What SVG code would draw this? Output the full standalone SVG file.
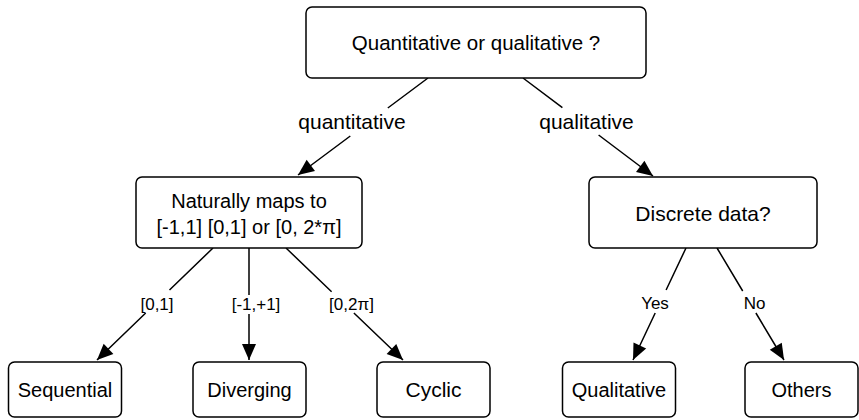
<svg xmlns="http://www.w3.org/2000/svg" width="859" height="420" viewBox="0 0 859 420">
  <style>
    .box { fill: #ffffff; stroke: #000000; stroke-width: 1.5; }
    .node-text { font-family: "Liberation Sans", Arial, Helvetica, sans-serif; font-size: 20px; fill: #000000; text-anchor: middle; }
    .edge { fill: none; stroke: #000000; stroke-width: 1.5; marker-end: url(#arrow); }
    .edge-label { font-family: "Liberation Sans", Arial, Helvetica, sans-serif; font-size: 17px; fill: #000000; text-anchor: middle; }
    .branch-label { font-family: "Liberation Sans", Arial, Helvetica, sans-serif; font-size: 21px; fill: #000000; text-anchor: middle; }
  </style>
  <defs>
    <marker id="arrow" viewBox="-17 -9 18 18" refX="0" refY="0" markerWidth="18" markerHeight="18" orient="auto" markerUnits="userSpaceOnUse">
      <path d="M0,0 L-16,-7 L-16,7 Z" fill="#000000"/>
    </marker>
  </defs>

  <rect width="859" height="420" fill="#ffffff"/>

  <!-- connectors (each split around its label) -->
  <g id="connectors">
    <path class="edge" d="M428,78 L387.8,108 M350.3,136 L298,175"/>
    <path class="edge" d="M523,78 L562.4,107.7 M598.6,135 L653,176"/>
    <path class="edge" d="M213,248 L169.5,290 M145.7,313 L97,360"/>
    <path class="edge" d="M249,248 L249,295 M249,314 L249,360"/>
    <path class="edge" d="M286,248 L331.6,291.7 M353.9,313 L403,360"/>
    <path class="edge" d="M686,248 L666.1,290 M655.2,313 L633,360"/>
    <path class="edge" d="M717,248 L742.7,291 M755.9,313 L784,360"/>
  </g>

  <!-- connector labels -->
  <g id="connector-labels">
    <text class="branch-label" x="352" y="128.5">quantitative</text>
    <text class="branch-label" x="586.5" y="128.5">qualitative</text>
    <text class="edge-label" x="157" y="310">[0,1]</text>
    <text class="edge-label" x="256" y="310">[-1,+1]</text>
    <text class="edge-label" x="351.5" y="310">[0,2π]</text>
    <text class="edge-label" x="655" y="309">Yes</text>
    <text class="edge-label" x="754.5" y="309">No</text>
  </g>

  <g id="root">
    <rect class="box" x="306" y="7" width="340" height="71" rx="6"/>
    <text class="node-text" x="476" y="50" style="font-size:20.5px">Quantitative or qualitative ?</text>
  </g>

  <g id="quantitative">
    <rect class="box" x="136" y="177" width="226" height="71" rx="6"/>
    <text class="node-text" x="249" y="208">Naturally maps to</text>
    <text class="node-text" x="249" y="234">[-1,1] [0,1] or [0, 2*π]</text>
  </g>

  <g id="qualitative">
    <rect class="box" x="589" y="177" width="228" height="71" rx="6"/>
    <text class="node-text" x="703" y="220.5" style="font-size:21px">Discrete data?</text>
  </g>

  <g id="sequential">
    <rect class="box" x="8.5" y="362" width="113" height="55" rx="6"/>
    <text class="node-text" x="65" y="396.5">Sequential</text>
  </g>

  <g id="diverging">
    <rect class="box" x="193" y="362" width="113" height="55" rx="6"/>
    <text class="node-text" x="249.5" y="396.5">Diverging</text>
  </g>

  <g id="cyclic">
    <rect class="box" x="377" y="362" width="113" height="55" rx="6"/>
    <text class="node-text" x="433.5" y="396.5" style="font-size:21px">Cyclic</text>
  </g>

  <g id="qualitative-leaf">
    <rect class="box" x="562.5" y="362" width="113" height="55" rx="6"/>
    <text class="node-text" x="619" y="396.5">Qualitative</text>
  </g>

  <g id="others">
    <rect class="box" x="745" y="362" width="113" height="55" rx="6"/>
    <text class="node-text" x="801.5" y="396.5">Others</text>
  </g>
</svg>
